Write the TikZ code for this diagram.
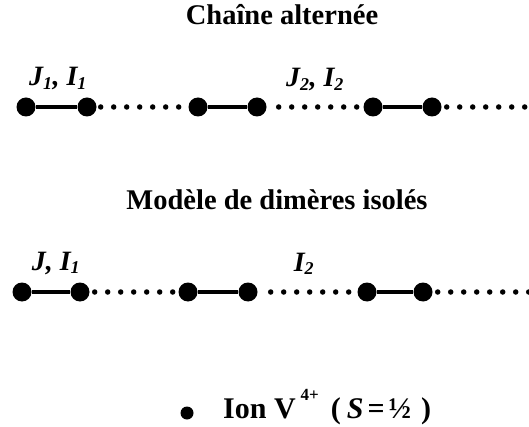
\documentclass[tikz,border=0pt]{standalone}
\usepackage{fontspec}
\setmainfont{Liberation Serif}
\newcommand{\sbs}[1]{\textsubscript{\fontsize{18}{20}\selectfont #1}}
\begin{document}
\begin{tikzpicture}[x=1pt,y=-1pt,
  site/.style={circle,fill=black,inner sep=0pt,minimum size=19pt},
  bond/.style={line width=4.5pt},
  weak/.style={line width=5.5pt,line cap=round,dash pattern=on 0pt off 13pt},
  title/.style={font=\fontsize{28.5}{32}\selectfont\bfseries,anchor=base},
  lab/.style={font=\fontsize{28}{32}\selectfont\bfseries\itshape,anchor=base}]
\useasboundingbox (0,0) rectangle (529,427);
% titles
\node[title] (t1) at (282,25) {Chaîne alternée};
\node[title] (t2) at (277,210) {Modèle de dimères isolés};
% row 1
\foreach \n/\x in {a1/26,a2/87,a3/198,a4/257,a5/373,a6/432}
  \node[site] (\n) at (\x,107) {};
\coordinate (aend) at (529,107);
\draw[bond] (a1) -- (a2);
\draw[bond] (a3) -- (a4);
\draw[bond] (a5) -- (a6);
\draw[weak,shorten <=4pt,shorten >=4pt] (a2) -- (a3);
\draw[weak,shorten <=12pt,shorten >=5pt] (a4) -- (a5);
\draw[weak,shorten <=5pt] (a6) -- (aend);
\node[lab] (l1) at (58,86) {J\sbs{1}, I\sbs{1}};
\node[lab] (l2) at (315,87) {J\sbs{2}, I\sbs{2}};
% row 2
\foreach \n/\x in {b1/22,b2/80,b3/188,b4/248,b5/367,b6/423}
  \node[site] (\n) at (\x,292) {};
\coordinate (bend) at (529,292);
\draw[bond] (b1) -- (b2);
\draw[bond] (b3) -- (b4);
\draw[bond] (b5) -- (b6);
\draw[weak,shorten <=5pt,shorten >=5pt] (b2) -- (b3);
\draw[weak,shorten <=13pt,shorten >=6pt] (b4) -- (b5);
\draw[weak,shorten <=5pt] (b6) -- (bend);
\node[lab] (l3) at (56,270) {J, I\sbs{1}};
\node[lab] (l4) at (304,271) {I\sbs{2}};
% legend
\node[circle,fill=black,inner sep=0pt,minimum size=13pt] (ion) at (187,413) {};
\node[anchor=base west,inner sep=0pt,font=\fontsize{30}{34}\selectfont\bfseries] (lg) at (223,418)
  {Ion V\hspace{5pt}\raisebox{18pt}{\fontsize{17}{20}\selectfont 4+}\hspace{12pt}(\hspace{6pt}\textit{S}\hspace{4pt}=\hspace{4pt}½\hspace{10pt})};
\end{tikzpicture}
\end{document}
